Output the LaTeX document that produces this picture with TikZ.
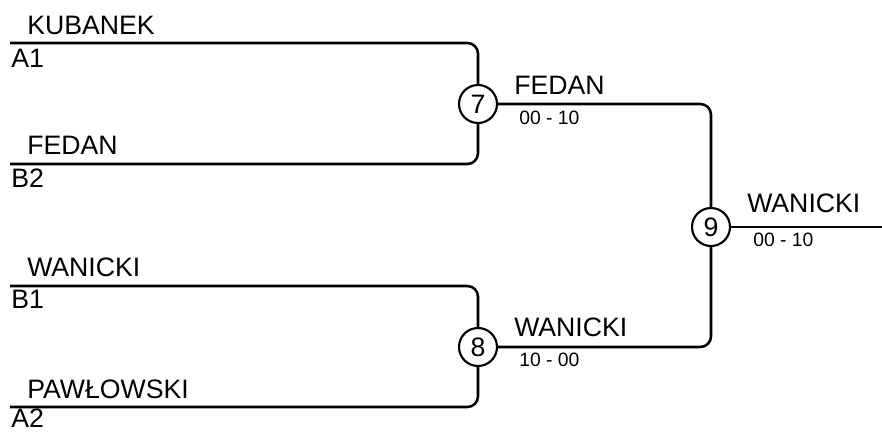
\documentclass[tikz,border=0pt]{standalone}
\usepackage{fontspec}
\setmainfont{Liberation Sans}
\usetikzlibrary{positioning}
\tikzset{
  game/.style={circle, draw, line width=1.6pt, minimum size=28.5pt, inner sep=0pt, font=\fontsize{20}{20}\selectfont},
  player/.style={anchor=base west, inner sep=0pt, font=\fontsize{20}{20}\selectfont},
  score/.style={anchor=base west, inner sep=0pt, font=\fontsize{14.5}{15}\selectfont},
  wire/.style={line width=1.9pt, rounded corners=8pt}
}
\begin{document}
\begin{tikzpicture}[x=0.75pt, y=-0.75pt]
  \useasboundingbox (0,0) rectangle (882,432);
  % entrant lines
  \coordinate (a1) at (10,43);
  \coordinate (b2) at (10,164);
  \coordinate (b1) at (10,286);
  \coordinate (a2) at (10,407);
  \coordinate (out) at (882,227);
  % games
  \node[game] (m7) at (478,104) {7};
  \node[game] (m8) at (478,347) {8};
  \node[game] (m9) at (711,227) {9};
  % connectors
  \draw[wire] (a1) -| (m7);
  \draw[wire] (b2) -| (m7);
  \draw[wire] (b1) -| (m8);
  \draw[wire] (a2) -| (m8);
  \draw[wire] (m7) -| (m9);
  \draw[wire] (m8) -| (m9);
  \draw[wire] (m9) -- (out);
  % names and seeds
  \node[player] (n1) at (27,34) {KUBANEK};
  \node[player] (s1) at (11,67) {A1};
  \node[player] (n2) at (27,154) {FEDAN};
  \node[player] (s2) at (11,187) {B2};
  \node[player] (n3) at (27,276) {WANICKI};
  \node[player] (s3) at (11,308) {B1};
  \node[player] (n4) at (27,398) {PAWŁOWSKI};
  \node[player] (s4) at (11,427) {A2};
  % winners and scores
  \node[player] (w7) at (514,94) {FEDAN};
  \node[score] (r7) at (519,124) {00 - 10};
  \node[player] (w8) at (514,336) {WANICKI};
  \node[score] (r8) at (519,366) {10 - 00};
  \node[player] (w9) at (747,212) {WANICKI};
  \node[score] (r9) at (753,246) {00 - 10};
\end{tikzpicture}
\end{document}
